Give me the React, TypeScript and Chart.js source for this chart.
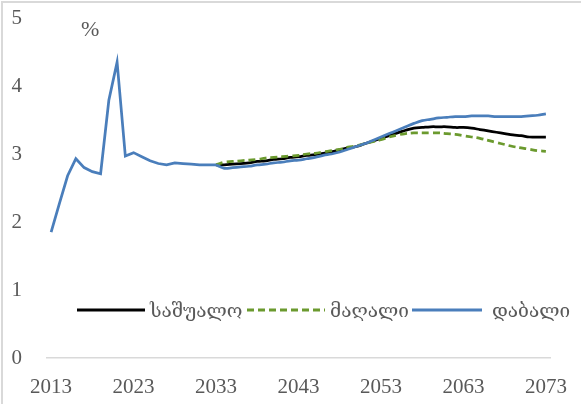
import React, { useEffect, useRef } from "react";
import { Chart, registerables } from "chart.js";

Chart.register(...registerables);

const years: string[] = [
  "2013","2014","2015","2016","2017","2018","2019","2020","2021","2022",
  "2023","2024","2025","2026","2027","2028","2029","2030","2031","2032",
  "2033","2034","2035","2036","2037","2038","2039","2040","2041","2042",
  "2043","2044","2045","2046","2047","2048","2049","2050","2051","2052",
  "2053","2054","2055","2056","2057","2058","2059","2060","2061","2062",
  "2063","2064","2065","2066","2067","2068","2069","2070","2071","2072",
  "2073",
];

// 2013–2033 actual values (shared by all scenarios)
const history: number[] = [
  1.85, 2.27, 2.68, 2.93, 2.80, 2.74, 2.71, 3.79, 4.35, 2.97,
  3.02, 2.96, 2.90, 2.86, 2.84, 2.87, 2.86, 2.85, 2.84, 2.84,
  2.84,
];

// 2033–2073 projections
const medium: number[] = [
  2.84,
  2.84, 2.85, 2.86, 2.87, 2.89, 2.90, 2.92, 2.93, 2.95, 2.96,
  2.98, 2.99, 3.01, 3.03, 3.06, 3.09, 3.11, 3.15, 3.19, 3.23,
  3.27, 3.31, 3.35, 3.38, 3.39, 3.40, 3.40, 3.40, 3.39, 3.39,
  3.38, 3.36, 3.34, 3.32, 3.30, 3.28, 3.27, 3.25, 3.25, 3.25,
];
const high: number[] = [
  2.84,
  2.88, 2.89, 2.90, 2.91, 2.92, 2.94, 2.95, 2.96, 2.97, 2.98,
  3.00, 3.01, 3.03, 3.05, 3.07, 3.10, 3.12, 3.15, 3.18, 3.21,
  3.25, 3.28, 3.30, 3.31, 3.31, 3.31, 3.31, 3.30, 3.29, 3.27,
  3.25, 3.23, 3.20, 3.17, 3.14, 3.11, 3.09, 3.07, 3.05, 3.04,
];
const low: number[] = [
  2.84,
  2.79, 2.80, 2.81, 2.82, 2.84, 2.85, 2.87, 2.88, 2.90, 2.91,
  2.93, 2.95, 2.98, 3.00, 3.03, 3.07, 3.11, 3.15, 3.20, 3.25,
  3.30, 3.35, 3.40, 3.45, 3.49, 3.51, 3.53, 3.54, 3.55, 3.55,
  3.56, 3.56, 3.56, 3.55, 3.55, 3.55, 3.55, 3.56, 3.57, 3.59,
];

const seriesNames = ["საშუალო", "მაღალი", "დაბალი"];
const unitLabel = "%";

const BLACK = "#000000";
const GREEN = "#6B9A2E";
const BLUE = "#4A7EBB";
const TEXT = "#595959";
const FONT = "'Liberation Serif', 'DejaVu Serif', serif";
const GEO_FONT = "'DejaVu Serif', serif";

export default function App() {
  const ref = useRef<HTMLCanvasElement | null>(null);

  useEffect(() => {
    document.body.style.margin = "0";
    if (!ref.current) return;
    const pad: null[] = Array(history.length - 1).fill(null);
    const histData = (history as (number | null)[]).concat(Array(medium.length - 1).fill(null));
    const chart = new Chart(ref.current, {
      type: "line",
      data: {
        labels: years,
        datasets: [
          {
            label: "history",
            data: histData,
            borderColor: BLUE,
            borderWidth: 2.75,
            pointRadius: 0,
            tension: 0,
            order: 0,
          },
          {
            label: seriesNames[2],
            data: (pad as (number | null)[]).concat(low),
            borderColor: BLUE,
            borderWidth: 2.75,
            pointRadius: 0,
            tension: 0.4,
            order: 1,
          },
          {
            label: seriesNames[0],
            data: (pad as (number | null)[]).concat(medium),
            borderColor: BLACK,
            borderWidth: 2.75,
            pointRadius: 0,
            tension: 0.4,
            order: 3,
          },
          {
            label: seriesNames[1],
            data: (pad as (number | null)[]).concat(high),
            borderColor: GREEN,
            borderWidth: 2.75,
            borderDash: [7, 4],
            pointRadius: 0,
            tension: 0.4,
            order: 2,
          },
        ],
      },
      options: {
        animation: false,
        responsive: false,
        maintainAspectRatio: false,
        layout: { padding: { top: 18, right: 31, left: 0, bottom: 0 } },
        plugins: { legend: { display: false }, tooltip: { enabled: false } },
        scales: {
          x: {
            type: "category",
            offset: true,
            grid: { display: false, drawTicks: false },
            border: { display: true, color: "#D9D9D9", width: 1.5 },
            ticks: {
              autoSkip: false,
              maxRotation: 0,
              padding: 17,
              color: TEXT,
              font: { family: FONT, size: 21 },
              callback: (_v: any, i: number) => (i % 10 === 0 ? years[i] : ""),
            },
            afterFit: (s: any) => {
              s.height = 46;
              s.paddingLeft = 0;
              s.paddingRight = 0;
            },
          },
          y: {
            min: 0,
            max: 5,
            grid: { display: false, drawTicks: false },
            border: { display: false },
            ticks: {
              stepSize: 1,
              padding: 25,
              color: TEXT,
              font: { family: FONT, size: 21 },
            },
            afterFit: (s: any) => {
              s.width = 47;
              s.paddingTop = 0;
              s.paddingBottom = 0;
            },
          },
        },
      },
    });
    return () => chart.destroy();
  }, []);

  const legendText: React.CSSProperties = {
    position: "absolute",
    top: 298,
    fontFamily: GEO_FONT,
    fontSize: 19,
    color: TEXT,
    lineHeight: "24px",
    whiteSpace: "nowrap",
  };

  return (
    <div style={{ position: "relative", width: 581, height: 404, overflow: "hidden", background: "#fff" }}>
      <canvas ref={ref} width={581} height={404} style={{ position: "absolute", left: 0, top: 0 }} />
      <div
        style={{
          position: "absolute",
          left: 1,
          top: 1,
          width: 620,
          height: 440,
          borderLeft: "2px solid #D9D9D9",
          borderTop: "2px solid #D9D9D9",
          pointerEvents: "none",
        }}
      />
      <div style={{ position: "absolute", left: 81, top: 16, fontFamily: FONT, fontSize: 22, color: TEXT }}>
        {unitLabel}
      </div>
      <svg width={581} height={404} style={{ position: "absolute", left: 0, top: 0 }}>
        <line x1={77} y1={310} x2={145} y2={310} stroke={BLACK} strokeWidth={3} />
        <line x1={247} y1={310} x2={325} y2={310} stroke={GREEN} strokeWidth={3} strokeDasharray="7 4" />
        <line x1={412} y1={310} x2={482} y2={310} stroke={BLUE} strokeWidth={3} />
      </svg>
      <div style={{ ...legendText, left: 150 }}>{seriesNames[0]}</div>
      <div style={{ ...legendText, left: 330 }}>{seriesNames[1]}</div>
      <div style={{ ...legendText, left: 492 }}>{seriesNames[2]}</div>
    </div>
  );
}
